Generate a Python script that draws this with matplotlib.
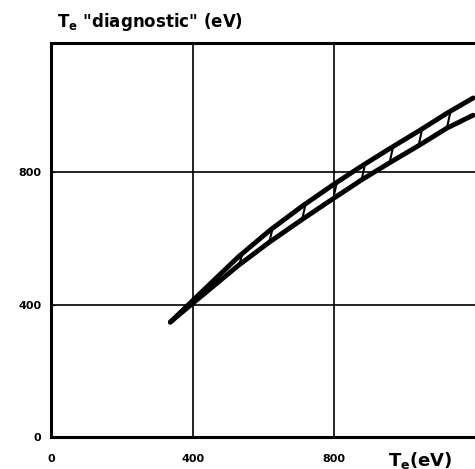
import matplotlib.pyplot as plt
import numpy as np

# upper and lower bounds of the diagnostic temperature band (eV)
te_upper = [337, 397, 530, 620, 709, 794, 871, 956, 1041, 1118, 1192]
diag_upper = [347, 409, 545, 626, 697, 760, 814, 871, 926, 978, 1024]
te_lower = [337, 397, 530, 616, 709, 794, 879, 962, 1041, 1118, 1192]
diag_lower = [347, 401, 519, 588, 657, 718, 778, 832, 882, 933, 972]

# positions of the hatch strokes across the band
hatch_te = [460, 531, 616, 709, 797, 877, 956, 1038, 1118]

ticks = [0, 400, 800]
tick_labels = ["0", "400", "800"]

fig = plt.figure(figsize=(4.75, 4.69), dpi=100)
ax = fig.add_axes([51 / 475, 32 / 469, 425 / 475, 394 / 469])

ax.set_xlim(0, 1200)
ax.set_ylim(0, 1190)

# grid
for v in [400, 800]:
    ax.axvline(v, color="black", lw=1.2, zorder=1)
    ax.axhline(v, color="black", lw=1.2, zorder=1)

ax.plot(te_upper, diag_upper, color="black", lw=3.5,
        solid_capstyle="round", solid_joinstyle="round", zorder=3)
ax.plot(te_lower, diag_lower, color="black", lw=3.5,
        solid_capstyle="round", solid_joinstyle="round", zorder=3)

# hatch strokes: from lower curve up to the upper curve, leaning right
for t in hatch_te:
    y0 = np.interp(t, te_lower, diag_lower)
    y1 = np.interp(t + 10, te_upper, diag_upper)
    ax.plot([t, t + 10], [y0, y1], color="black", lw=1.5, zorder=2)

for side in ["left", "bottom", "top"]:
    ax.spines[side].set_linewidth(2.2)
ax.spines["right"].set_visible(False)

ax.set_xticks(ticks)
ax.set_xticklabels(tick_labels, fontsize=8, fontweight="bold")
ax.set_yticks(ticks)
ax.set_yticklabels(tick_labels, fontsize=8, fontweight="bold")
ax.tick_params(axis="x", length=0, pad=12)
ax.tick_params(axis="y", direction="in", length=3, pad=7)

fig.text(57 / 475, 1 - 22 / 469, r'T$_\mathbf{e}$ "diagnostic" (eV)',
         fontsize=12, fontweight="bold", va="center", ha="left")
fig.text(388 / 475, 1 - 460 / 469, r'T$_\mathbf{e}$(eV)',
         fontsize=13, fontweight="bold", va="center", ha="left")

fig.savefig("out.png", dpi=100)
